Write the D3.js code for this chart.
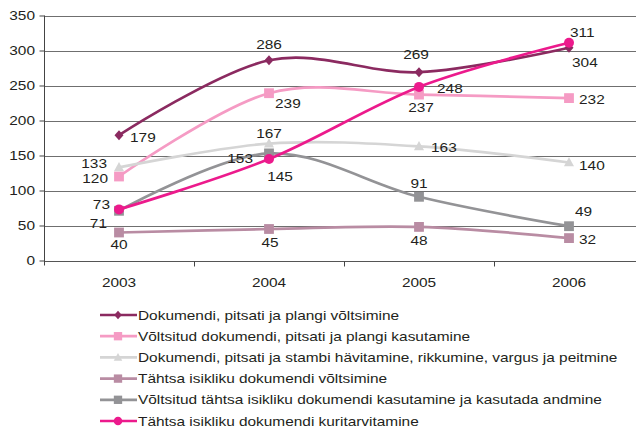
<!DOCTYPE html>
<html>
<head>
<meta charset="utf-8">
<script src="https://cdn.jsdelivr.net/npm/d3@7"></script>
<style>
  html, body { margin: 0; padding: 0; background: #ffffff; }
  svg { display: block; }
  text { font-family: "Liberation Sans", Arial, sans-serif; font-size: 12px; fill: #231f20; }
</style>
</head>
<body>
<svg id="chart" width="636" height="430"></svg>
<script>
// Years on the category axis
const years = ["2003", "2004", "2005", "2006"];

// Offence categories (legend order)
const seriesNames = [
  "Dokumendi, pitsati ja plangi võltsimine",
  "Võltsitud dokumendi, pitsati ja plangi kasutamine",
  "Dokumendi, pitsati ja stambi hävitamine, rikkumine, vargus ja peitmine",
  "Tähtsa isikliku dokumendi võltsimine",
  "Võltsitud tähtsa isikliku dokumendi kasutamine ja kasutada andmine",
  "Tähtsa isikliku dokumendi kuritarvitamine"
];

// Registered cases per year
const forgeryDocs      = [179, 286, 269, 304];
const useForgedDocs    = [120, 239, 237, 232];
const destroyDocs      = [133, 167, 163, 140];
const forgeryPersonal  = [40, 45, 48, 32];
const useForgedPersonal = [71, 153, 91, 49];
const misusePersonal   = [73, 145, 248, 311];

const seriesValues = [forgeryDocs, useForgedDocs, destroyDocs, forgeryPersonal, useForgedPersonal, misusePersonal];

// Value axis ticks
const yTicks = [0, 50, 100, 150, 200, 250, 300, 350];

// Styling per series
const colors  = ["#8b2a60", "#f59bc4", "#d5d5d5", "#b98ca3", "#939396", "#ec1a8c"];
const markers = ["diamond", "square", "triangle", "square", "square", "circle"];

// Label placement per point: [dx, dy, anchor] relative to the marker
const labelPlacement = [
  [[11, 6.5, "start"], [0, -11, "middle"], [-3, -13, "middle"], [3, 19, "start"]],
  [[-11, 6, "end"], [6, 14.5, "start"], [2, 17, "middle"], [10, 6, "start"]],
  [[-12, 0.5, "end"], [0, -6, "middle"], [12, 6, "start"], [10, 7, "start"]],
  [[0, 16, "middle"], [1, 17.5, "middle"], [0, 18.5, "middle"], [10, 5.5, "start"]],
  [[-12, 17, "end"], [-16, 10, "end"], [0, -9, "middle"], [6, -10, "start"]],
  [[-9, -0.5, "end"], [11, 22, "middle"], [18, 6, "start"], [1, -6, "start"]]
];

// Horizontal stretch applied to all text
const TEXT_SX = 1.285;

const svg = d3.select("#chart");
const W = 636;

const x = d3.scaleBand().domain(years).range([44, 644]);
const y = d3.scaleLinear().domain([0, 350]).range([260.5, 15.5]);
const cx = d => x(d) + x.bandwidth() / 2;

function putText(g, tx, ty, str, anchor) {
  return g.append("text")
    .attr("transform", `translate(${tx},${ty}) scale(${TEXT_SX},1)`)
    .attr("text-anchor", anchor)
    .text(str);
}

// Gridlines
const grid = svg.append("g");
yTicks.forEach(t => {
  grid.append("line")
    .attr("x1", 44).attr("x2", W)
    .attr("y1", Math.round(y(t)) + 0.5).attr("y2", Math.round(y(t)) + 0.5)
    .attr("stroke", t === 0 ? "#555" : "#6f6f6f")
    .attr("stroke-width", 1);
});

// Y axis
const yAxis = svg.append("g").attr("transform", "translate(44.5,0)")
  .call(d3.axisLeft(y).tickValues(yTicks).tickSize(5).tickFormat(""));
yAxis.select(".domain").attr("stroke", "#444").attr("d", `M0,${y(350)}V${y(0) + 5}`);
yAxis.selectAll(".tick line").attr("stroke", "#444");
yTicks.forEach(t => putText(svg, 35, y(t) + 4.3, String(t), "end"));

// X axis
const xAxis = svg.append("g").attr("transform", `translate(0,${Math.round(y(0)) + 0.5})`)
  .call(d3.axisBottom(x).tickSize(0).tickFormat(""));
xAxis.select(".domain").remove();
xAxis.selectAll(".tick").remove();
years.forEach((yr, i) => {
  if (i > 0) {
    xAxis.append("line")
      .attr("x1", Math.round(x(yr)) + 0.5).attr("x2", Math.round(x(yr)) + 0.5)
      .attr("y1", 0).attr("y2", 5).attr("stroke", "#444");
  }
  putText(svg, cx(yr), 286.5, yr, "middle");
});

// Marker drawing
function drawMarker(g, kind, px, py, color, s) {
  if (kind === "diamond") {
    g.append("path").attr("d", `M${px},${py - s}L${px + s * 0.9},${py}L${px},${py + s}L${px - s * 0.9},${py}Z`).attr("fill", color);
  } else if (kind === "square") {
    g.append("rect").attr("x", px - s).attr("y", py - s).attr("width", 2 * s).attr("height", 2 * s).attr("fill", color);
  } else if (kind === "triangle") {
    g.append("path").attr("d", `M${px},${py - s * 1.1}L${px + s * 1.05},${py + s * 0.8}L${px - s * 1.05},${py + s * 0.8}Z`).attr("fill", color);
  } else {
    g.append("circle").attr("cx", px).attr("cy", py).attr("r", s).attr("fill", color);
  }
}

// Series lines and markers
const line = d3.line()
  .x((d, i) => cx(years[i]))
  .y(d => y(d))
  .curve(d3.curveCardinal.tension(0));

const markerSize = { diamond: 5, square: 4.9, triangle: 4.8, circle: 5 };

seriesValues.forEach((vals, si) => {
  const g = svg.append("g");
  g.append("path")
    .datum(vals)
    .attr("d", line)
    .attr("fill", "none")
    .attr("stroke", colors[si])
    .attr("stroke-width", 2.7)
    .attr("stroke-linejoin", "round");
  vals.forEach((v, i) => drawMarker(g, markers[si], cx(years[i]), y(v), colors[si], markerSize[markers[si]]));
});

// Data labels
const labels = svg.append("g");
seriesValues.forEach((vals, si) => {
  vals.forEach((v, i) => {
    const [dx, dy, anchor] = labelPlacement[si][i];
    putText(labels, cx(years[i]) + dx, y(v) + dy, String(v), anchor);
  });
});

// Legend
const legend = svg.append("g");
const legendRowY = d3.scaleLinear().domain([0, 5]).range([315, 421]);
seriesNames.forEach((name, si) => {
  const ly = legendRowY(si);
  legend.append("line")
    .attr("x1", 100).attr("x2", 137)
    .attr("y1", ly).attr("y2", ly)
    .attr("stroke", colors[si]).attr("stroke-width", 2.7);
  drawMarker(legend, markers[si], 118, ly, colors[si], markerSize[markers[si]] * 0.85);
  putText(legend, 138, ly + 4.5, name, "start");
});
</script>
</body>
</html>
